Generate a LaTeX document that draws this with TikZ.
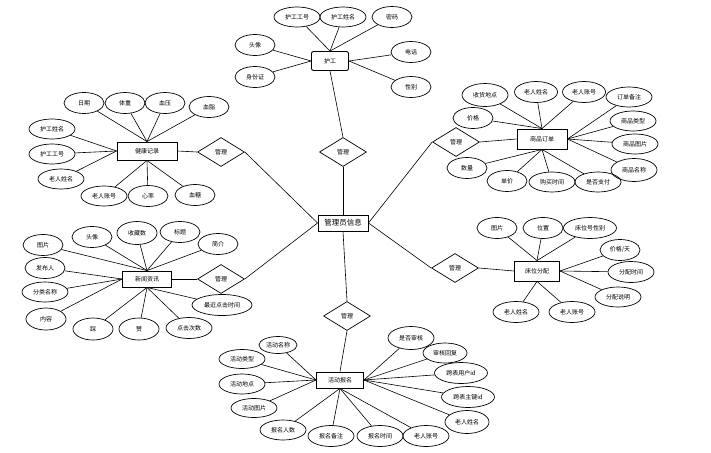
\documentclass[tikz,border=0pt]{standalone}
\usepackage{fontspec}
\setmainfont{Noto Sans CJK SC}
\usetikzlibrary{shapes.geometric}

\begin{document}
\begin{tikzpicture} [x = 1pt, y = -1pt, font = \fontsize{6}{7}\selectfont, line width = 0.6pt,
  ent/.style = {draw, line width = 0.9pt, inner sep = 0pt, minimum height = 18pt},
  attr/.style = {draw, ellipse, line width = 0.7pt, inner sep = 0pt, minimum width = 40pt, minimum height = 21pt},
  wattr/.style = {attr, minimum width = 46pt, minimum height = 20pt},
  rel/.style = {draw, diamond, line width = 0.7pt, inner sep = 0pt, minimum width = 47pt, minimum height = 29pt}]
\useasboundingbox (0,0) rectangle (711,452);
% centre
\node[ent, minimum width = 50pt, minimum height = 16pt, font = \fontsize{7.5}{9}\selectfont](e0) at (343,223){管理员信息};
% relations
\node[rel](r1) at (343,152){管理};
\node[rel](r2) at (221,152){管理};
\node[rel](r3) at (456,142){管理};
\node[rel](r4) at (221,279){管理};
\node[rel](r5) at (455,268){管理};
\node[rel](r6) at (347,316){管理};
% entities
\node[ent, rounded corners = 2pt, minimum width = 37pt, minimum height = 19pt](e1) at (330,61){护工};
\node[ent, minimum width = 60pt](e2) at (147,151){健康记录};
\node[ent, minimum width = 50pt, minimum height = 20pt](e3) at (542,139){商品订单};
\node[ent, minimum width = 49pt, minimum height = 16pt](e4) at (147,279){新闻资讯};
\node[ent, minimum width = 45pt, minimum height = 20pt](e5) at (537,271){床位分配};
\node[ent, minimum width = 47pt, minimum height = 16pt](e6) at (340,380){活动报名};
% 护工
\node[wattr](p1) at (297,17){护工工号};
\node[wattr](p2) at (343,17){护工姓名};
\node[attr](p3) at (392,17){密码};
\node[attr](p4) at (255,45){头像};
\node[attr](p5) at (255,77){身份证};
\node[attr](p6) at (411,52){电话};
\node[attr](p7) at (411,87){性别};
% 健康记录
\node[attr](j1) at (84,103){日期};
\node[attr](j2) at (125,103){体重};
\node[attr](j3) at (165,103){血压};
\node[attr](j4) at (209,107){血脂};
\node[wattr](j5) at (52,129){护工姓名};
\node[wattr](j6) at (52,154){护工工号};
\node[wattr](j7) at (61,179){老人姓名};
\node[wattr](j8) at (104,196){老人账号};
\node[attr](j9) at (148,196){心率};
\node[attr](j10) at (195,195){血糖};
% 商品订单
\node[wattr, minimum height = 23pt](s1) at (485,95){收货地点};
\node[wattr, minimum width = 43pt, minimum height = 21pt](s2) at (536,92){老人姓名};
\node[wattr, minimum width = 43pt, minimum height = 21pt](s3) at (584,92){老人账号};
\node[wattr](s4) at (629,97){订单备注};
\node[attr](s5) at (473,118){价格};
\node[wattr](s6) at (633,121){商品类型};
\node[wattr](s7) at (635,144){商品图片};
\node[wattr, minimum height = 23pt](s8) at (634,170){商品名称};
\node[wattr](s9) at (598,182){是否支付};
\node[wattr](s10) at (552,182){购买时间};
\node[attr](s11) at (507,181){单价};
\node[attr](s12) at (467,168){数量};
% 新闻资讯
\node[attr](n1) at (43,245){图片};
\node[attr](n2) at (92,237){头像};
\node[attr, minimum height = 23pt](n3) at (137,233){收藏数};
\node[attr](n4) at (180,232){标题};
\node[attr](n5) at (218,244){简介};
\node[attr](n6) at (45,268){发布人};
\node[wattr](n7) at (45,292){分类名称};
\node[attr, minimum height = 22pt](n8) at (46,319){内容};
\node[attr, minimum height = 22pt](n9) at (93,329){踩};
\node[attr, minimum height = 22pt](n10) at (139,329){赞};
\node[wattr, minimum height = 21pt](n11) at (189,328){点击次数};
\node[attr, minimum width = 60pt](n12) at (222,305){最近点击时间};
% 床位分配
\node[attr](c1) at (497,228){图片};
\node[attr](c2) at (543,228){位置};
\node[attr, minimum width = 53pt](c3) at (590,228){床位号性别};
\node[attr](c4) at (620,250){价格/天};
\node[wattr, minimum height = 21pt](c5) at (631,272){分配时间};
\node[wattr](c6) at (618,297){分配说明};
\node[wattr, minimum height = 21pt](c7) at (516,312){老人姓名};
\node[wattr, minimum height = 21pt](c8) at (572,312){老人账号};
% 活动报名
\node[attr, minimum width = 38pt, minimum height = 17pt](d1) at (278,345){活动名称};
\node[wattr, minimum height = 19pt](d2) at (242,359){活动类型};
\node[wattr](d3) at (242,384){活动地点};
\node[wattr, minimum height = 19pt](d4) at (254,408){活动图片};
\node[wattr](d5) at (283,430){报名人数};
\node[wattr, minimum height = 21pt](d6) at (331,436){报名备注};
\node[wattr, minimum height = 21pt](d7) at (380,436){报名时间};
\node[wattr, minimum height = 21pt](d8) at (426,436){老人账号};
\node[wattr, minimum width = 44pt, minimum height = 23pt](d9) at (467,422){老人姓名};
\node[attr, minimum width = 53pt](d10) at (468,397){跨表主键id};
\node[attr, minimum width = 53pt](d11) at (461,373){跨表用户id};
\node[wattr, minimum width = 44pt](d12) at (445,353){审核回复};
\node[wattr, minimum height = 23pt](d13) at (411,338){是否审核};
% relation lines
\draw (e1.south) -- (r1.north);
\draw (r1.south) -- (e0.north);
\draw (e0.west) -- (r2.east);
\draw (r2.west) -- (e2.east);
\draw (e0.east) -- (r3.west);
\draw (r3.east) -- (e3.west);
\draw (e0.west) -- (r4.east);
\draw (r4.west) -- (e4.east);
\draw (e0.east) -- (r5.west);
\draw (r5.east) -- (e5.west);
\draw (e0.south) -- (r6.north);
\draw (r6.south) -- (e6.north);
% attribute lines
\draw (e1.north) -- (p1);
\draw (e1.north) -- (p2);
\draw (e1.north) -- (p3);
\draw (e1.west) -- (p4);
\draw (e1.west) -- (p5);
\draw (e1.east) -- (p6);
\draw (e1.east) -- (p7);
\draw (e2.north) -- (j1);
\draw (e2.north) -- (j2);
\draw (e2.north) -- (j3);
\draw (e2.north) -- (j4);
\draw (e2.west) -- (j5);
\draw (e2.west) -- (j6);
\draw (e2.west) -- (j7);
\draw (e2.south) -- (j8);
\draw (e2.south) -- (j9);
\draw (e2.south) -- (j10);
\draw (e3.north) -- (s1);
\draw (e3.north) -- (s2);
\draw (e3.north) -- (s3);
\draw (e3.east) -- (s4);
\draw (e3.north) -- (s5);
\draw (e3.east) -- (s6);
\draw (e3.east) -- (s7);
\draw (e3.east) -- (s8);
\draw (e3.south) -- (s9);
\draw (e3.south) -- (s10);
\draw (e3.south) -- (s11);
\draw (e3.south) -- (s12);
\draw (e4.north) -- (n1);
\draw (e4.north) -- (n2);
\draw (e4.north) -- (n3);
\draw (e4.north) -- (n4);
\draw (e4.north) -- (n5);
\draw (e4.west) -- (n6);
\draw (e4.west) -- (n7);
\draw (e4.west) -- (n8);
\draw (e4.south) -- (n9);
\draw (e4.south) -- (n10);
\draw (e4.south) -- (n11);
\draw (e4.south) -- (n12);
\draw (e5.north) -- (c1);
\draw (e5.north) -- (c2);
\draw (e5.north) -- (c3);
\draw (e5.east) -- (c4);
\draw (e5.east) -- (c5);
\draw (e5.east) -- (c6);
\draw (e5.south) -- (c7);
\draw (e5.south) -- (c8);
\draw (e6.west) -- (d1);
\draw (e6.west) -- (d2);
\draw (e6.west) -- (d3);
\draw (e6.west) -- (d4);
\draw (e6.south) -- (d5);
\draw (e6.south) -- (d6);
\draw (e6.south) -- (d7);
\draw (e6.south) -- (d8);
\draw (e6.east) -- (d9);
\draw (e6.east) -- (d10);
\draw (e6.east) -- (d11);
\draw (e6.east) -- (d12);
\draw (e6.east) -- (d13);
\end{tikzpicture}
\end{document}
